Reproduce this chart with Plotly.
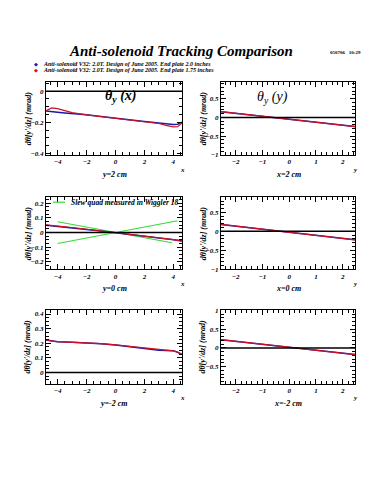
import plotly.graph_objects as go

# ---------------- data ----------------
xl_top = [-4.8, -4.4, -4.0, -3.5, -3.0, -2.0, -1.0, 0.0, 1.0, 2.0, 3.0, 3.5, 4.0, 4.3, 4.6]
blue_top = [-0.128, -0.130, -0.135, -0.140, -0.143, -0.152, -0.163, -0.175, -0.185, -0.195, -0.205, -0.212, -0.215, -0.213, -0.200]
red_top = [-0.125, -0.108, -0.112, -0.125, -0.138, -0.152, -0.164, -0.176, -0.186, -0.196, -0.208, -0.220, -0.230, -0.228, -0.205]

xr = [-2.55, -1.0, 0.0, 1.0, 2.46]
blue_tr = [0.150, 0.030, -0.050, -0.130, -0.245]
red_tr = [0.154, 0.030, -0.048, -0.128, -0.246]

xl_mid = [-4.8, -4.0, -3.0, -2.0, -1.0, 0.0, 1.0, 2.0, 3.0, 4.0, 4.6]
blue_mid = [0.050, 0.043, 0.032, 0.021, 0.010, -0.001, -0.012, -0.023, -0.034, -0.046, -0.056]
red_mid = [0.052, 0.045, 0.034, 0.022, 0.011, 0.000, -0.012, -0.024, -0.036, -0.049, -0.060]
green1_x = [-4.0, 3.9]
green1_y = [0.073, -0.070]
green2_x = [-4.0, 4.3]
green2_y = [-0.075, 0.080]

blue_mr = [0.180, 0.060, -0.020, -0.100, -0.222]
red_mr = [0.185, 0.062, -0.020, -0.102, -0.225]

xl_bot = [-4.8, -4.4, -4.0, -3.0, -2.0, -1.0, 0.0, 1.0, 2.0, 3.0, 3.5, 4.0, 4.3, 4.6]
red_bot = [0.225, 0.215, 0.212, 0.208, 0.205, 0.198, 0.190, 0.180, 0.168, 0.157, 0.153, 0.148, 0.138, 0.122]
blue_bot = [0.222, 0.214, 0.211, 0.207, 0.204, 0.197, 0.189, 0.179, 0.165, 0.152, 0.150, 0.150, 0.140, 0.125]

blue_br = [0.215, 0.090, 0.010, -0.070, -0.178]
red_br = [0.220, 0.092, 0.012, -0.070, -0.180]

series_names = ["Anti-solenoid V32: 2.0T. Design of June 2005. End plate 2.0 inches",
                "Anti-solenoid V32: 2.0T. Design of June 2005. End plate 1.75 inches"]
green_name = "Slew quad measured in Wiggler 18"
panel_xlabels = ["y=2 cm", "x=2 cm", "y=0 cm", "x=0 cm", "y=-2 cm", "x=-2 cm"]
ytitle = "dθ[y'/dz] (mrad)"

BLUE = "#1a1aa8"
RED = "#d01020"
GREEN = "#33dd33"
FONT = "Liberation Serif"

W, H = 375, 500
def px(x): return x / W
def py(y): return 1 - y / H

# panel geometry (pixels)
left_x = (46, 182)
right_x = (221, 355)
rows_y = [(80, 154), (197, 270), (311, 386)]

ranges = [
    ([-4.8, 4.6], [-0.41, 0.06], 2, 0.5, 0.2, 0.05),
    ([-2.55, 2.46], [-1.0, 0.95], 1, 0.2, 0.5, 0.1),
    ([-4.8, 4.6], [-0.25, 0.24], 2, 0.5, 0.1, 0.025),
    ([-2.55, 2.46], [-1.0, 0.9], 1, 0.2, 0.5, 0.1),
    ([-4.8, 4.6], [-0.075, 0.43], 2, 0.5, 0.1, 0.025),
    ([-2.55, 2.46], [-0.95, 1.02], 1, 0.2, 0.5, 0.1),
]

fig = go.Figure()

data = [
    (xl_top, blue_top, red_top),
    (xr, blue_tr, red_tr),
    (xl_mid, blue_mid, red_mid),
    (xr, blue_mr, red_mr),
    (xl_bot, blue_bot, red_bot),
    (xr, blue_br, red_br),
]

tickfont = dict(family=FONT, size=7, color="black", weight="bold", style="italic")
layout = dict(width=W, height=H, margin=dict(l=0, r=0, t=0, b=0),
              paper_bgcolor="white", plot_bgcolor="white", showlegend=False)
shapes = []
annotations = []

for i in range(6):
    n = i + 1
    xs = "x" if n == 1 else f"x{n}"
    ys = "y" if n == 1 else f"y{n}"
    xk = "xaxis" if n == 1 else f"xaxis{n}"
    yk = "yaxis" if n == 1 else f"yaxis{n}"
    row = i // 2
    col = i % 2
    xd = left_x if col == 0 else right_x
    yd = rows_y[row]
    xrg, yrg, xdt, xmin_dt, ydt, ymin_dt = ranges[i]

    # zero line
    shapes.append(dict(type="line", xref=f"{xs} domain", yref=ys, x0=0, x1=1, y0=0, y1=0,
                       line=dict(color="black", width=1.5)))

    if i == 2:
        fig.add_trace(go.Scatter(x=green1_x, y=green1_y, mode="lines", line=dict(color=GREEN, width=1.2),
                                 name=green_name, xaxis=xs, yaxis=ys))
        fig.add_trace(go.Scatter(x=green2_x, y=green2_y, mode="lines", line=dict(color=GREEN, width=1.2),
                                 name=green_name, xaxis=xs, yaxis=ys))
    xv, bv, rv = data[i]
    fig.add_trace(go.Scatter(x=xv, y=bv, mode="lines", line=dict(color=BLUE, width=1.5),
                             name=series_names[0], xaxis=xs, yaxis=ys))
    fig.add_trace(go.Scatter(x=xv, y=rv, mode="lines", line=dict(color=RED, width=1.2),
                             name=series_names[1], xaxis=xs, yaxis=ys))

    layout[xk] = dict(domain=[px(xd[0]), px(xd[1])], anchor=ys, range=xrg,
                      showline=True, linecolor="black", linewidth=1, mirror="allticks",
                      ticks="inside", ticklen=5, tickcolor="black", dtick=xdt, tick0=0,
                      minor=dict(ticks="inside", ticklen=3, dtick=xmin_dt, tickcolor="black"),
                      showgrid=False, zeroline=False, tickfont=tickfont)
    layout[yk] = dict(domain=[py(yd[1]), py(yd[0])], anchor=xs, range=yrg,
                      showline=True, linecolor="black", linewidth=1, mirror="allticks",
                      ticks="inside", ticklen=5, tickcolor="black", dtick=ydt, tick0=0,
                      minor=dict(ticks="inside", ticklen=3, dtick=ymin_dt, tickcolor="black"),
                      showgrid=False, zeroline=False, tickfont=tickfont)

    # x-axis caption below panel
    cx = (xd[0] + xd[1]) / 2
    annotations.append(dict(text=panel_xlabels[i], x=px(cx), y=py(yd[1] + 20), xref="paper", yref="paper",
                            showarrow=False, xanchor="center", yanchor="middle",
                            font=dict(family=FONT, size=8, color="black", weight="bold", style="italic")))
    # small axis name at right end
    annotations.append(dict(text="x" if col == 0 else "y", x=px(xd[1]), y=py(yd[1] + 15), xref="paper", yref="paper",
                            showarrow=False, xanchor="center", yanchor="middle",
                            font=dict(family=FONT, size=7, color="black", weight="bold", style="italic")))
    # y-axis title
    annotations.append(dict(text=ytitle, x=px(xd[0] - 18), y=py((yd[0] + yd[1]) / 2), xref="paper", yref="paper",
                            showarrow=False, textangle=-90, xanchor="center", yanchor="middle",
                            font=dict(family=FONT, size=8, color="black", weight="bold", style="italic")))

# title and date
annotations.append(dict(text="Anti-solenoid Tracking Comparison", x=px(181), y=py(49), xref="paper", yref="paper",
                        showarrow=False, xanchor="center", yanchor="middle",
                        font=dict(family=FONT, size=15, color="black", weight="bold", style="italic")))
annotations.append(dict(text="050706   10:29", x=px(345), y=py(50), xref="paper", yref="paper",
                        showarrow=False, xanchor="center", yanchor="middle",
                        font=dict(family=FONT, size=5, color="black", weight="bold")))
# series legend
for k, (col_, yy) in enumerate([(BLUE, 62), (RED, 68)]):
    annotations.append(dict(text="◆", x=px(36), y=py(yy), xref="paper", yref="paper", showarrow=False,
                            xanchor="center", yanchor="middle", font=dict(family="DejaVu Sans", size=5, color=col_)))
    annotations.append(dict(text=series_names[k], x=px(41), y=py(yy), xref="paper", yref="paper", showarrow=False,
                            xanchor="left", yanchor="middle",
                            font=dict(family=FONT, size=6, color="black", weight="bold", style="italic")))
# green legend inside middle-left panel
shapes.append(dict(type="line", xref="paper", yref="paper", x0=px(53), x1=px(65), y0=py(202), y1=py(202),
                   line=dict(color=GREEN, width=1.2)))
annotations.append(dict(text=green_name, x=px(69), y=py(202), xref="paper", yref="paper", showarrow=False,
                        xanchor="left", yanchor="middle",
                        font=dict(family=FONT, size=7.5, color="black", weight="bold", style="italic")))
# panel titles
annotations.append(dict(text="θ<sub>y</sub> (x)", x=px(120), y=py(95), xref="paper", yref="paper", showarrow=False,
                        xanchor="center", yanchor="middle",
                        font=dict(family=FONT, size=14, color="black", weight="bold", style="italic")))
annotations.append(dict(text="θ<sub>y</sub> (y)", x=px(272), y=py(96), xref="paper", yref="paper", showarrow=False,
                        xanchor="center", yanchor="middle",
                        font=dict(family=FONT, size=14, color="black", style="italic")))

layout["shapes"] = shapes
layout["annotations"] = annotations
fig.update_layout(**layout)
fig.write_html("out.html", config={"displayModeBar": False},
               post_script="document.body.style.margin='0';document.body.style.padding='0';")
